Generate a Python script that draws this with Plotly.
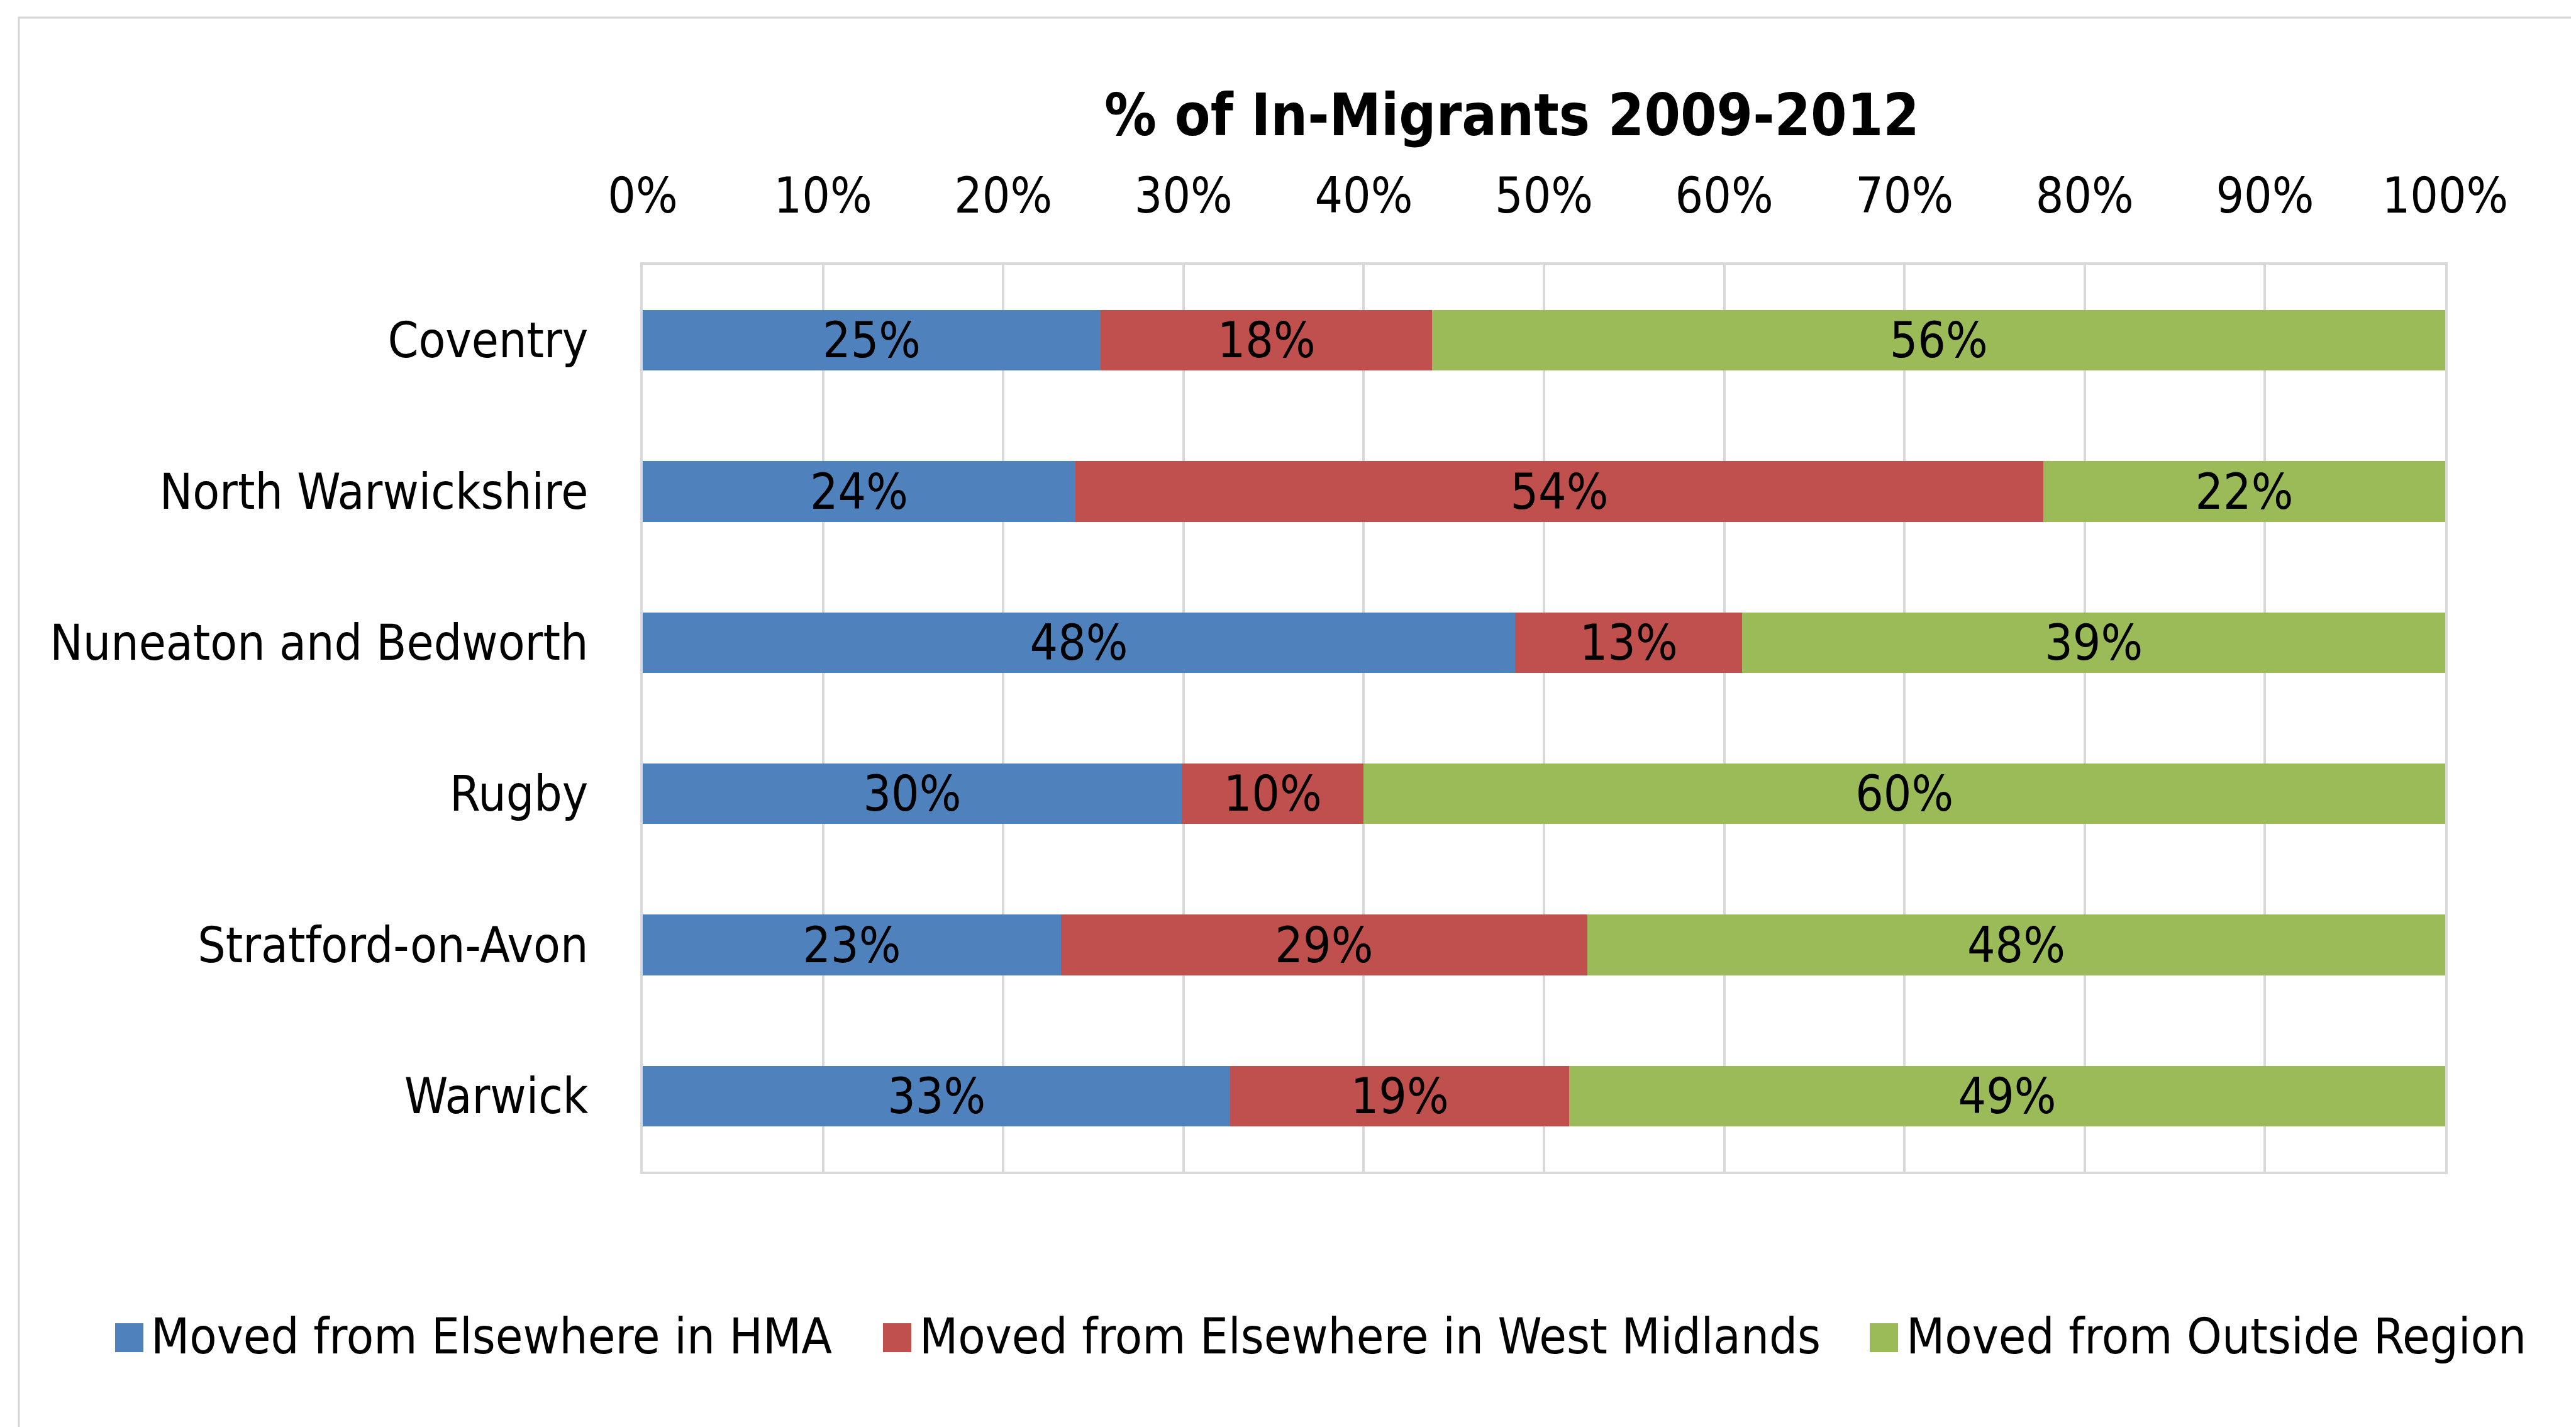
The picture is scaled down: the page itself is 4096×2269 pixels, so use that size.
import plotly.graph_objects as go

categories = ["Coventry", "North Warwickshire", "Nuneaton and Bedworth", "Rugby",
              "Stratford-on-Avon", "Warwick"]
series_names = ["Moved from Elsewhere in HMA", "Moved from Elsewhere in West Midlands",
                "Moved from Outside Region"]
hma = [25.4, 24.0, 48.4, 29.9, 23.2, 32.6]
west_midlands = [18.4, 53.7, 12.6, 10.1, 29.2, 18.8]
outside = [56.2, 22.3, 39.0, 60.0, 47.6, 48.6]
tick_values = [0, 10, 20, 30, 40, 50, 60, 70, 80, 90, 100]
tick_labels = ["0%", "10%", "20%", "30%", "40%", "50%", "60%", "70%", "80%", "90%", "100%"]
title_text = "% of In-Migrants 2009-2012"

colors = ["#4F81BD", "#C0504D", "#9BBB59"]
FONT = "DejaVu Sans Condensed, DejaVu Sans"
FS = 78
W, H = 4096, 2269
# plot area in pixels
PL, PR, PT, PB = 1014, 3880, 413, 1855


def px(x):
    return (x - PL) / (PR - PL)


def py(y):
    return (PB - y) / (PB - PT)


fig = go.Figure()
for name, vals, col in zip(series_names, [hma, west_midlands, outside], colors):
    fig.add_trace(go.Bar(
        y=categories, x=vals, name=name, orientation="h",
        marker=dict(color=col, line=dict(width=0)),
        texttemplate="%{x:.0f}%", textposition="inside", insidetextanchor="middle",
        textangle=0, textfont=dict(family=FONT, size=FS, color="black"),
        showlegend=False,
    ))

shapes = [
    # outer chart frame
    dict(type="rect", xref="paper", yref="paper", x0=px(22), x1=px(4087), y0=py(2300), y1=py(20),
         line=dict(color="#d4d4d4", width=3), fillcolor="rgba(0,0,0,0)", layer="below"),
]
annotations = []
legend_sq = [(175, 220, 230), (1396, 1441, 1452), (2965, 3010, 3021)]
ly = 2119
for (sx0, sx1, tx), col, name in zip(legend_sq, colors, series_names):
    shapes.append(dict(type="rect", xref="paper", yref="paper", x0=px(sx0), x1=px(sx1),
                       y0=py(ly + 23), y1=py(ly - 23), fillcolor=col, line=dict(width=0)))
    annotations.append(dict(text=name, xref="paper", yref="paper", x=px(tx), y=py(ly - 2),
                            xanchor="left", yanchor="middle", showarrow=False,
                            font=dict(family=FONT, size=79, color="black")))

fig.update_layout(
    width=W, height=H,
    margin=dict(l=PL, r=W - PR, t=PT, b=H - PB, pad=0),
    paper_bgcolor="white", plot_bgcolor="white",
    barmode="stack", bargap=0.6,
    title=dict(text=title_text, x=2396 / W, xanchor="center", y=1 - 175 / H, yanchor="middle",
               font=dict(family=FONT, size=92, color="black", weight="bold")),
    xaxis=dict(side="top", range=[0, 100], tickvals=tick_values, ticktext=tick_labels,
               showgrid=True, gridcolor="#d9d9d9", gridwidth=4, zeroline=False,
               showline=True, linecolor="#d9d9d9", linewidth=4, mirror=True,
               ticks="", ticklabelstandoff=48,
               tickfont=dict(family=FONT, size=FS, color="black")),
    yaxis=dict(type="category", autorange="reversed", showgrid=False, zeroline=False,
               showline=True, linecolor="#d9d9d9", linewidth=4, mirror=True,
               ticks="", ticklabelstandoff=67,
               tickfont=dict(family=FONT, size=FS, color="black")),
    uniformtext=dict(minsize=FS, mode="show"),
    shapes=shapes, annotations=annotations,
)

fig.write_html("out.html")
